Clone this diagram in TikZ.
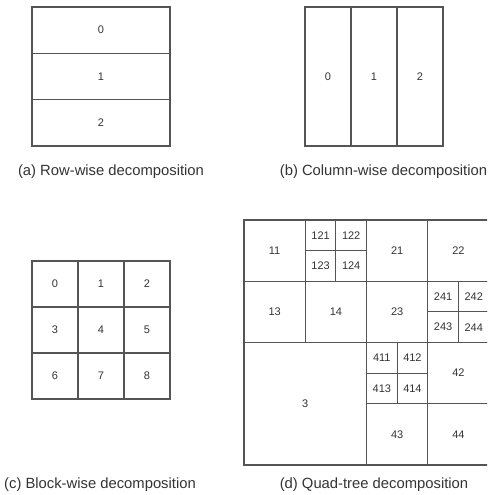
\documentclass[tikz,border=0pt]{standalone}
\usepackage{fontspec}
\setmainfont{Liberation Sans}
\definecolor{linegray}{HTML}{555555}
\definecolor{textgray}{HTML}{333333}
% \cellbox{name}{x1}{y1}{x2}{y2}{label}: one rectangular cell, corners in px
\newcommand\cellbox[6]{%
  \node[cell, minimum width={#4-#2}, minimum height={#5-#3}]
    (#1) at ({(#2+#4)/2},{(#3+#5)/2}) {#6};}
\begin{document}
\begin{tikzpicture}[x=1pt, y=-1pt,
  cell/.style={draw=linegray, line width=1.2pt, inner sep=0pt, outer sep=0pt,
    text=textgray, font=\fontsize{11}{13}\selectfont},
  caption/.style={text=textgray, inner sep=0pt, font=\fontsize{14.8}{17}\selectfont}]
\useasboundingbox (0,0) rectangle (487,495);
\clip (0,0) rectangle (487,495);

% (a) rows
\cellbox{a0}{32}{7}{170}{53.33}{0}
\cellbox{a1}{32}{53.33}{170}{99.67}{1}
\cellbox{a2}{32}{99.67}{170}{146}{2}
\node[caption] (capa) at (111,172) {(a) Row-wise decomposition};

% (b) columns
\cellbox{b0}{305}{7}{351}{146}{0}
\cellbox{b1}{351}{7}{397}{146}{1}
\cellbox{b2}{397}{7}{443}{146}{2}
\node[caption] (capb) at (383.5,172) {(b) Column-wise decomposition};

% (c) 3x3 blocks
\cellbox{c0}{32}{261}{78}{307}{0}
\cellbox{c1}{78}{261}{124}{307}{1}
\cellbox{c2}{124}{261}{170}{307}{2}
\cellbox{c3}{32}{307}{78}{353}{3}
\cellbox{c4}{78}{307}{124}{353}{4}
\cellbox{c5}{124}{307}{170}{353}{5}
\cellbox{c6}{32}{353}{78}{399}{6}
\cellbox{c7}{78}{353}{124}{399}{7}
\cellbox{c8}{124}{353}{170}{399}{8}
\node[caption] (capc) at (100,485) {(c) Block-wise decomposition};

% (d) quad-tree
% quadrant 1
\cellbox{d11}{244}{220}{305.25}{281.25}{11}
\cellbox{d121}{305.25}{220}{335.875}{250.625}{121}
\cellbox{d122}{335.875}{220}{366.5}{250.625}{122}
\cellbox{d123}{305.25}{250.625}{335.875}{281.25}{123}
\cellbox{d124}{335.875}{250.625}{366.5}{281.25}{124}
\cellbox{d13}{244}{281.25}{305.25}{342.5}{13}
\cellbox{d14}{305.25}{281.25}{366.5}{342.5}{14}
% quadrant 2
\cellbox{d21}{366.5}{220}{427.75}{281.25}{21}
\cellbox{d22}{427.75}{220}{489}{281.25}{22}
\cellbox{d23}{366.5}{281.25}{427.75}{342.5}{23}
\cellbox{d241}{427.75}{281.25}{458.375}{311.875}{241}
\cellbox{d242}{458.375}{281.25}{489}{311.875}{242}
\cellbox{d243}{427.75}{311.875}{458.375}{342.5}{243}
\cellbox{d244}{458.375}{311.875}{489}{342.5}{244}
% quadrant 3
\cellbox{d3}{244}{342.5}{366.5}{465}{3}
% quadrant 4
\cellbox{d411}{366.5}{342.5}{397.125}{373.125}{411}
\cellbox{d412}{397.125}{342.5}{427.75}{373.125}{412}
\cellbox{d413}{366.5}{373.125}{397.125}{403.75}{413}
\cellbox{d414}{397.125}{373.125}{427.75}{403.75}{414}
\cellbox{d42}{427.75}{342.5}{489}{403.75}{42}
\cellbox{d43}{366.5}{403.75}{427.75}{465}{43}
\cellbox{d44}{427.75}{403.75}{489}{465}{44}
\node[caption] (capd) at (374,485) {(d) Quad-tree decomposition};
\end{tikzpicture}
\end{document}
